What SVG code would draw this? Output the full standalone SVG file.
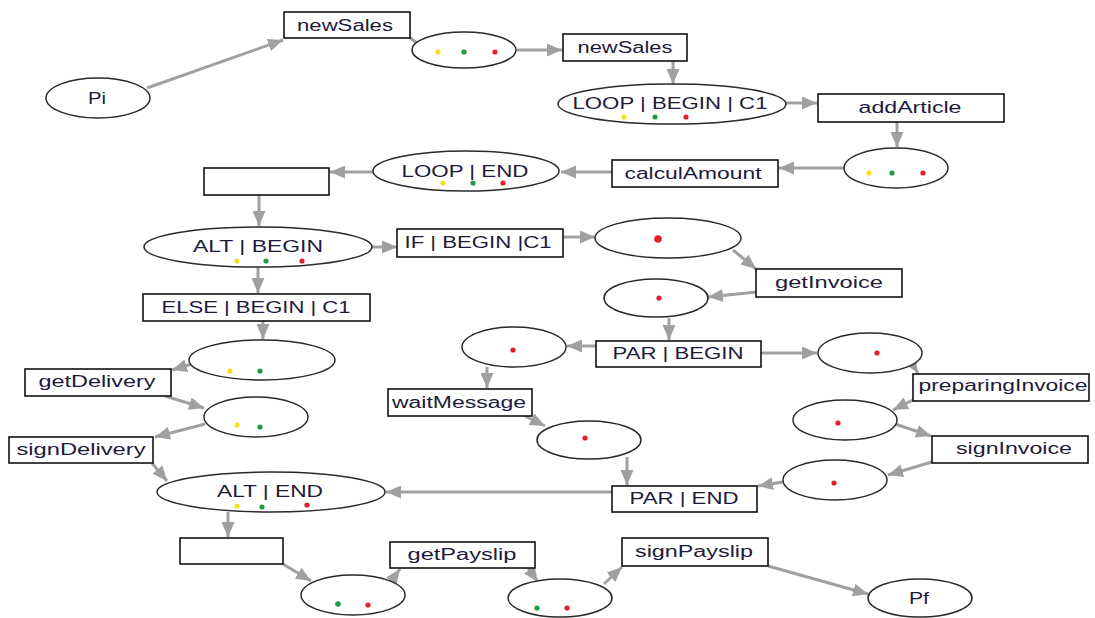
<svg xmlns="http://www.w3.org/2000/svg" width="1095" height="618" viewBox="0 0 1095 618">
  <style>
    .box { fill: #ffffff; stroke: #111111; stroke-width: 1.6; }
    .place { fill: #ffffff; stroke: #2a2a2a; stroke-width: 1.5; }
    .lbl { font-family: "Liberation Sans", Arial, sans-serif; font-size: 16px; fill: #1e1a3c; text-anchor: middle; }
    .edge { stroke: #a0a0a0; stroke-width: 3; fill: none; marker-end: url(#arrow); }
    .plain { stroke: #a0a0a0; stroke-width: 3; fill: none; }
    .y { fill: #f2e21a; }
    .g { fill: #1f9a45; }
    .r { fill: #e2202a; }
  </style>
  <defs>
    <marker id="arrow" markerUnits="userSpaceOnUse" markerWidth="16" markerHeight="13" refX="15" refY="6.5" orient="auto">
      <path d="M0,0 L15,6.5 L0,13 z" fill="#a0a0a0"/>
    </marker>
  </defs>
  <rect width="1095" height="618" fill="#ffffff"/>

  <!-- connectors -->
  <g id="connectors">
    <line class="edge" x1="147" y1="88" x2="283" y2="40"/>
    <line class="plain" x1="408" y1="36" x2="418" y2="44"/>
    <line class="edge" x1="517" y1="50" x2="562" y2="50"/>
    <line class="edge" x1="673" y1="61" x2="673" y2="84"/>
    <line class="edge" x1="786" y1="103" x2="817" y2="103"/>
    <line class="edge" x1="897" y1="122" x2="897" y2="147"/>
    <line class="edge" x1="844" y1="168" x2="779" y2="168"/>
    <line class="edge" x1="612" y1="172" x2="561" y2="172"/>
    <line class="edge" x1="373" y1="172" x2="330" y2="172"/>
    <line class="edge" x1="259" y1="195" x2="259" y2="226"/>
    <line class="edge" x1="372" y1="247" x2="397" y2="247"/>
    <line class="edge" x1="563" y1="237" x2="595" y2="237"/>
    <line class="edge" x1="733" y1="250" x2="756" y2="269"/>
    <line class="edge" x1="757" y1="292" x2="708" y2="297"/>
    <line class="edge" x1="669" y1="318" x2="669" y2="340"/>
    <line class="edge" x1="596" y1="346" x2="567" y2="346"/>
    <line class="edge" x1="487" y1="367" x2="487" y2="388"/>
    <line class="edge" x1="761" y1="353" x2="817" y2="353"/>
    <line class="edge" x1="911" y1="362" x2="918" y2="373"/>
    <line class="edge" x1="913" y1="400" x2="893" y2="410"/>
    <line class="edge" x1="895" y1="424" x2="931" y2="436"/>
    <line class="edge" x1="932" y1="462" x2="888" y2="475"/>
    <line class="edge" x1="783" y1="482" x2="758" y2="486"/>
    <line class="edge" x1="525" y1="416" x2="545" y2="426"/>
    <line class="edge" x1="627" y1="457" x2="627" y2="485"/>
    <line class="edge" x1="612" y1="492" x2="386" y2="492"/>
    <line class="edge" x1="258" y1="267" x2="258" y2="293"/>
    <line class="edge" x1="263" y1="321" x2="263" y2="339"/>
    <line class="edge" x1="192" y1="364" x2="172" y2="370"/>
    <line class="edge" x1="165" y1="396" x2="204" y2="408"/>
    <line class="edge" x1="205" y1="424" x2="155" y2="437"/>
    <line class="edge" x1="152" y1="463" x2="167" y2="481"/>
    <line class="edge" x1="228" y1="512" x2="228" y2="537"/>
    <line class="edge" x1="283" y1="564" x2="311" y2="581"/>
    <line class="edge" x1="390" y1="583" x2="400" y2="569"/>
    <line class="edge" x1="528" y1="568" x2="538" y2="582"/>
    <line class="edge" x1="604" y1="584" x2="622" y2="567"/>
    <line class="edge" x1="768" y1="566" x2="868" y2="594"/>
  </g>

  <!-- places -->
  <g id="pi"><ellipse class="place" cx="98" cy="98" rx="52" ry="20"/><text class="lbl" x="97" y="104" textLength="18" lengthAdjust="spacingAndGlyphs">Pi</text></g>
  <g id="p1"><ellipse class="place" cx="464" cy="50" rx="52" ry="18"/><circle class="y" cx="438" cy="52" r="2.6"/><circle class="g" cx="464" cy="52" r="2.6"/><circle class="r" cx="495" cy="52" r="2.6"/></g>
  <g id="loop-begin"><ellipse class="place" cx="672" cy="104" rx="114" ry="20"/><text class="lbl" x="670" y="109" textLength="195" lengthAdjust="spacingAndGlyphs">LOOP | BEGIN | C1</text><circle class="y" cx="624" cy="117" r="2.6"/><circle class="g" cx="655" cy="117" r="2.6"/><circle class="r" cx="686" cy="117" r="2.6"/></g>
  <g id="p2"><ellipse class="place" cx="896" cy="168" rx="52" ry="20"/><circle class="y" cx="869" cy="173" r="2.6"/><circle class="g" cx="892" cy="173" r="2.6"/><circle class="r" cx="923" cy="173" r="2.6"/></g>
  <g id="loop-end"><ellipse class="place" cx="466" cy="171" rx="93" ry="20"/><text class="lbl" x="465" y="177" textLength="127" lengthAdjust="spacingAndGlyphs">LOOP | END</text><circle class="y" cx="443" cy="183" r="2.6"/><circle class="g" cx="473" cy="183" r="2.6"/><circle class="r" cx="503" cy="183" r="2.6"/></g>
  <g id="alt-begin"><ellipse class="place" cx="258" cy="247" rx="114" ry="20"/><text class="lbl" x="258" y="252" textLength="130" lengthAdjust="spacingAndGlyphs">ALT | BEGIN</text><circle class="y" cx="237" cy="261" r="2.6"/><circle class="g" cx="266" cy="261" r="2.6"/><circle class="r" cx="302" cy="261" r="2.6"/></g>
  <g id="p3"><ellipse class="place" cx="668" cy="238" rx="73" ry="20"/><circle class="r" cx="658" cy="239" r="3.8"/></g>
  <g id="p4"><ellipse class="place" cx="656" cy="298" rx="52" ry="19"/><circle class="r" cx="659" cy="298" r="2.6"/></g>
  <g id="p5"><ellipse class="place" cx="514" cy="347" rx="52" ry="20"/><circle class="r" cx="513" cy="350" r="2.6"/></g>
  <g id="p6"><ellipse class="place" cx="870" cy="353" rx="52" ry="20"/><circle class="r" cx="877" cy="353" r="2.6"/></g>
  <g id="p7"><ellipse class="place" cx="845" cy="420" rx="52" ry="20"/><circle class="r" cx="838" cy="423" r="2.6"/></g>
  <g id="p8"><ellipse class="place" cx="835" cy="480" rx="52" ry="20"/><circle class="r" cx="834" cy="483" r="2.6"/></g>
  <g id="p9"><ellipse class="place" cx="589" cy="440" rx="52" ry="19"/><circle class="r" cx="585" cy="438" r="2.6"/></g>
  <g id="p10"><ellipse class="place" cx="262" cy="360" rx="73" ry="20"/><circle class="y" cx="230" cy="371" r="2.6"/><circle class="g" cx="260" cy="371" r="2.6"/></g>
  <g id="p11"><ellipse class="place" cx="256" cy="417" rx="52" ry="20"/><circle class="y" cx="237" cy="425" r="2.6"/><circle class="g" cx="260" cy="427" r="2.6"/></g>
  <g id="alt-end"><ellipse class="place" cx="271" cy="492" rx="114" ry="20"/><text class="lbl" x="270" y="497" textLength="106" lengthAdjust="spacingAndGlyphs">ALT | END</text><circle class="y" cx="237" cy="506" r="2.6"/><circle class="g" cx="262" cy="507" r="2.6"/><circle class="r" cx="307" cy="505" r="2.6"/></g>
  <g id="p12"><ellipse class="place" cx="353" cy="595" rx="52" ry="20"/><circle class="g" cx="338" cy="604" r="2.8"/><circle class="r" cx="368" cy="605" r="2.6"/></g>
  <g id="p13"><ellipse class="place" cx="560" cy="598" rx="52" ry="19"/><circle class="g" cx="537" cy="608" r="2.6"/><circle class="r" cx="567" cy="608" r="2.6"/></g>
  <g id="pf"><ellipse class="place" cx="920" cy="598" rx="52" ry="19"/><text class="lbl" x="919" y="604" textLength="20" lengthAdjust="spacingAndGlyphs">Pf</text></g>

  <!-- transitions -->
  <g id="t-newSales-1"><rect class="box" x="284" y="12" width="126" height="26"/><text class="lbl" x="345" y="31" textLength="96" lengthAdjust="spacingAndGlyphs">newSales</text></g>
  <g id="t-newSales-2"><rect class="box" x="563" y="34" width="124" height="27"/><text class="lbl" x="625" y="53" textLength="95" lengthAdjust="spacingAndGlyphs">newSales</text></g>
  <g id="t-addArticle"><rect class="box" x="818" y="94" width="186" height="28"/><text class="lbl" x="910" y="113" textLength="103" lengthAdjust="spacingAndGlyphs">addArticle</text></g>
  <g id="t-calculAmount"><rect class="box" x="612" y="160" width="166" height="27"/><text class="lbl" x="693" y="179" textLength="137" lengthAdjust="spacingAndGlyphs">calculAmount</text></g>
  <g id="t-empty-1"><rect class="box" x="204" y="168" width="125" height="27"/></g>
  <g id="t-if-begin"><rect class="box" x="397" y="229" width="166" height="28"/><text class="lbl" x="478" y="248" textLength="147" lengthAdjust="spacingAndGlyphs">IF | BEGIN |C1</text></g>
  <g id="t-getInvoice"><rect class="box" x="756" y="269" width="146" height="28"/><text class="lbl" x="829" y="288" textLength="108" lengthAdjust="spacingAndGlyphs">getInvoice</text></g>
  <g id="t-else-begin"><rect class="box" x="143" y="294" width="227" height="27"/><text class="lbl" x="256" y="313" textLength="189" lengthAdjust="spacingAndGlyphs">ELSE | BEGIN | C1</text></g>
  <g id="t-par-begin"><rect class="box" x="596" y="341" width="165" height="26"/><text class="lbl" x="678" y="359" textLength="131" lengthAdjust="spacingAndGlyphs">PAR | BEGIN</text></g>
  <g id="t-getDelivery"><rect class="box" x="25" y="369" width="146" height="27"/><text class="lbl" x="97" y="387" textLength="117" lengthAdjust="spacingAndGlyphs">getDelivery</text></g>
  <g id="t-preparingInvoice"><rect class="box" x="913" y="374" width="176" height="27"/><text class="lbl" x="1003" y="391" textLength="169" lengthAdjust="spacingAndGlyphs">preparingInvoice</text></g>
  <g id="t-waitMessage"><rect class="box" x="388" y="389" width="144" height="27"/><text class="lbl" x="459" y="408" textLength="134" lengthAdjust="spacingAndGlyphs">waitMessage</text></g>
  <g id="t-signInvoice"><rect class="box" x="932" y="436" width="156" height="27"/><text class="lbl" x="1014" y="454" textLength="116" lengthAdjust="spacingAndGlyphs">signInvoice</text></g>
  <g id="t-signDelivery"><rect class="box" x="9" y="437" width="144" height="26"/><text class="lbl" x="81" y="455" textLength="129" lengthAdjust="spacingAndGlyphs">signDelivery</text></g>
  <g id="t-par-end"><rect class="box" x="612" y="486" width="145" height="26"/><text class="lbl" x="684" y="504" textLength="109" lengthAdjust="spacingAndGlyphs">PAR | END</text></g>
  <g id="t-empty-2"><rect class="box" x="180" y="538" width="103" height="26"/></g>
  <g id="t-getPayslip"><rect class="box" x="390" y="542" width="145" height="26"/><text class="lbl" x="462" y="560" textLength="109" lengthAdjust="spacingAndGlyphs">getPayslip</text></g>
  <g id="t-signPayslip"><rect class="box" x="622" y="538" width="146" height="28"/><text class="lbl" x="694" y="557" textLength="118" lengthAdjust="spacingAndGlyphs">signPayslip</text></g>
</svg>
